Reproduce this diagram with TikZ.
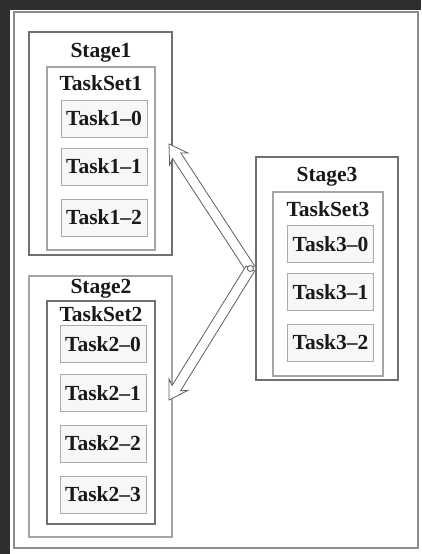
\documentclass[tikz,border=0pt]{standalone}
\usepackage{fontspec}
\setmainfont{Liberation Serif}
\usetikzlibrary{
  calc,
  positioning,
}
\definecolor{bgdark}{RGB}{46,46,46}
\definecolor{framecol}{RGB}{140,140,140}
\definecolor{boxdark}{RGB}{112,112,112}
\definecolor{boxlight}{RGB}{165,165,165}
\definecolor{taskline}{RGB}{170,170,170}
\definecolor{taskfill}{RGB}{247,247,247}
\definecolor{arrowcol}{RGB}{95,95,95}
\newcommand{\labelsize}{\fontsize{21.5}{24}\selectfont\bfseries}
\tikzset{
  stagebox/.style={
    rectangle, draw=boxdark, line width=1.3pt,
    minimum width=143pt, inner sep=0pt
  },
  setbox/.style={
    rectangle, draw=boxlight, line width=1.1pt,
    minimum width=108pt, inner sep=0pt
  },
  taskbox/.style={
    rectangle, draw=taskline, fill=taskfill, line width=0.9pt,
    minimum width=86pt, minimum height=37pt, inner sep=0pt,
    font=\labelsize, text=black!90
  },
  boxlabel/.style={anchor=base, inner sep=0pt, font=\labelsize, text=black!90},
  hollowline/.style={draw=arrowcol, line width=0.8pt, fill=white, line join=miter},
  hubdot/.style={circle, draw=arrowcol, fill=white, line width=0.8pt,
    minimum size=6pt, inner sep=0pt},
}
% hollow block arrow from #1 to #2
\newcommand{\hollowarrow}[2]{%
  \coordinate (hb) at ($(#2)!14pt!(#1)$);
  \coordinate (hw) at ($(#2)!18pt!(#1)$);
  \draw[hollowline]
    ($(#1)!5pt!90:(#2)$) -- ($(hb)!5pt!90:(#2)$) -- ($(hw)!11pt!90:(#2)$)
    -- (#2)
    -- ($(hw)!11pt!-90:(#2)$) -- ($(hb)!5pt!-90:(#2)$) -- ($(#1)!5pt!-90:(#2)$)
    -- cycle;
}

\begin{document}
\begin{tikzpicture}[x=1pt, y=-1pt]

  % ── Background and frame ──
  \fill[bgdark] (0,0) rectangle (421,554);
  \fill[white] (10,10) rectangle (421,554);
  \draw[framecol, line width=1.4pt] (14,12) rectangle (418,548);

  % ── Stage boxes ──
  \node[stagebox, minimum height=223pt] (stage1) at (100.5,143.5) {};
  \node[stagebox, minimum height=261pt, draw=boxlight] (stage2) at (100.5,406.5) {};
  \node[stagebox, minimum height=223pt, minimum width=142pt] (stage3) at (327,268.5) {};

  % ── TaskSet boxes ──
  \node[setbox, minimum height=183pt] (set1) at (101,158.5) {};
  \node[setbox, minimum height=223pt, draw=boxdark] (set2) at (101,412.5) {};
  \node[setbox, minimum height=184pt, minimum width=110pt] (set3) at (328,284) {};

  % ── Stage / TaskSet labels ──
  \node[boxlabel] (lbStage1) at (101,57)  {Stage1};
  \node[boxlabel] (lbSet1)   at (101,90)  {TaskSet1};
  \node[boxlabel] (lbStage2) at (101,293) {Stage2};
  \node[boxlabel] (lbSet2)   at (101,321) {TaskSet2};
  \node[boxlabel] (lbStage3) at (327,181) {Stage3};
  \node[boxlabel] (lbSet3)   at (328,216) {TaskSet3};

  % ── Tasks of Stage1 ──
  \node[taskbox] (t10) at (104,118.5) {Task1--0};
  \node[taskbox] (t11) at (104,166.5) {Task1--1};
  \node[taskbox] (t12) at (104,217.5) {Task1--2};

  % ── Tasks of Stage2 ──
  \node[taskbox] (t20) at (103,344)   {Task2--0};
  \node[taskbox] (t21) at (103,393)   {Task2--1};
  \node[taskbox] (t22) at (103,443.5) {Task2--2};
  \node[taskbox] (t23) at (103,494.5) {Task2--3};

  % ── Tasks of Stage3 ──
  \node[taskbox] (t30) at (330.5,244)   {Task3--0};
  \node[taskbox] (t31) at (330.5,292)   {Task3--1};
  \node[taskbox] (t32) at (330.5,342.5) {Task3--2};

  % ── Hollow arrows from Stage3 to Stage1, Stage2 ──
  \coordinate (hub)  at ($(stage3.west)+(-5,0)$);
  \coordinate (tipA) at (169,144);
  \coordinate (tipB) at (169,400);
  \hollowarrow{hub}{tipA}
  \hollowarrow{hub}{tipB}
  \node[hubdot] (hubring) at (hub) {};

\end{tikzpicture}
\end{document}
